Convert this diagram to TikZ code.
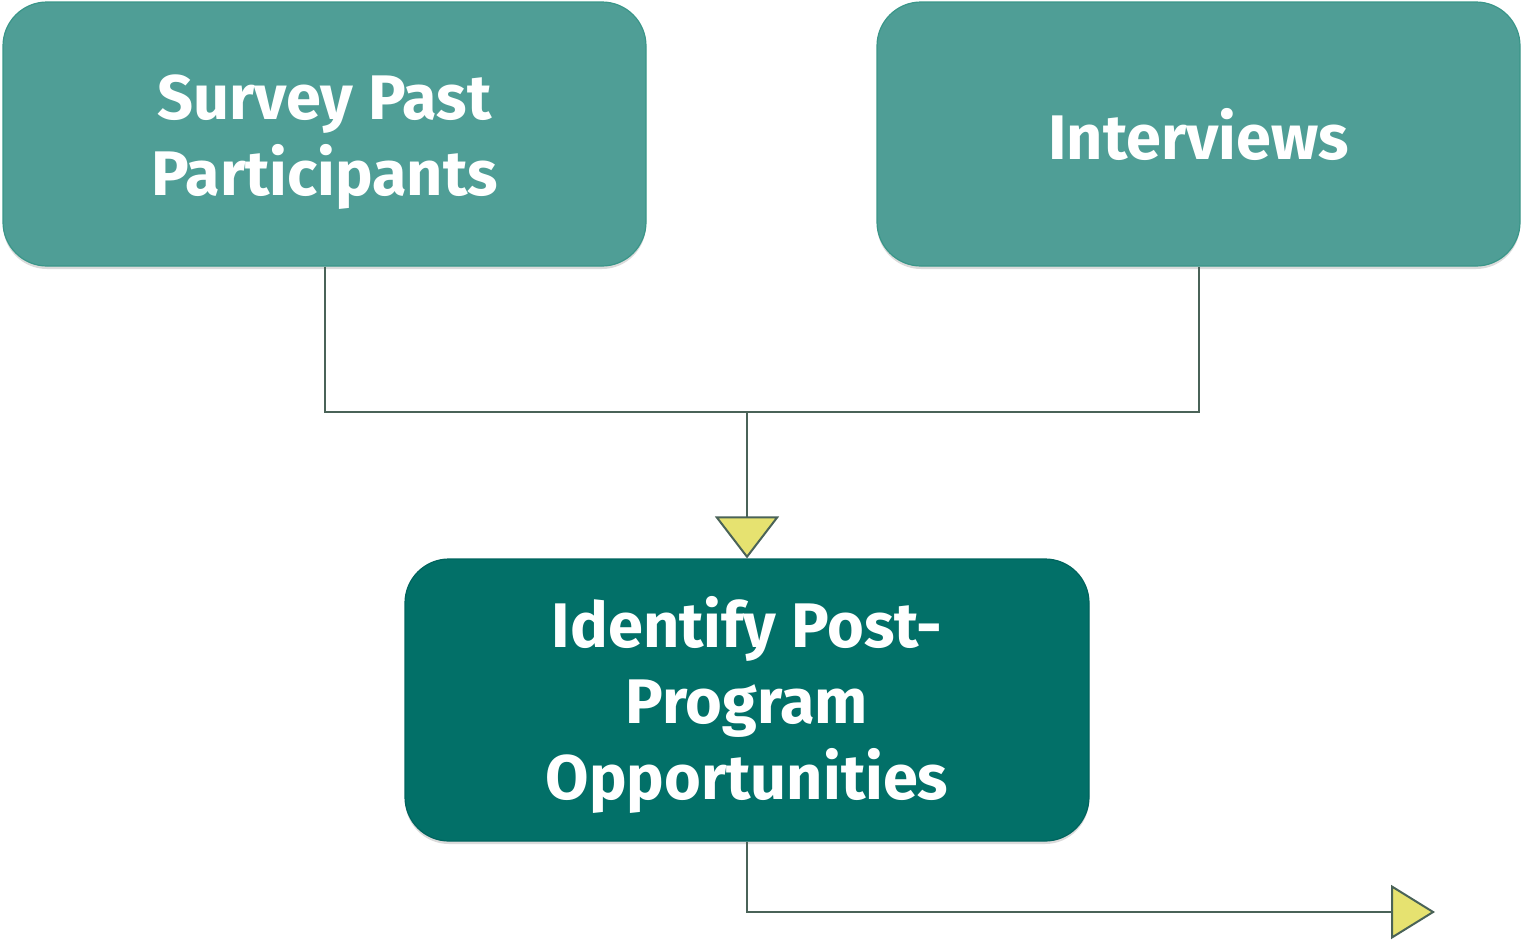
\documentclass[tikz,border=0pt]{standalone}
\usepackage{fontspec}
\setmainfont{Fira Sans}
\usetikzlibrary{arrows.meta,shadows}
\definecolor{lightteal}{RGB}{79,158,150}
\definecolor{lighttealdraw}{RGB}{58,150,137}
\definecolor{darkteal}{RGB}{2,112,104}
\definecolor{darktealdraw}{RGB}{0,100,94}
\definecolor{linecol}{RGB}{74,99,88}
\definecolor{tipyellow}{RGB}{230,226,112}
\newcommand{\topstrut}{\rule{0pt}{60pt}}
\tikzset{
  boxbase/.style={rounded corners=44pt, line width=1.2pt, text=white, align=center,
    font=\fontsize{63}{76}\selectfont\bfseries,
    drop shadow={shadow xshift=0pt, shadow yshift=-3pt, opacity=0.14, fill=black}},
  lightbox/.style={boxbase, fill=lightteal, draw=lighttealdraw, minimum width=643pt, minimum height=264pt},
  darkbox/.style={boxbase, fill=darkteal, draw=darktealdraw, minimum width=684pt, minimum height=282pt},
  conn/.style={draw=linecol, line width=2pt},
  bigtip/.style={-{Triangle[length=42pt,width=64pt,fill=tipyellow,line width=2pt]}},
  endtip/.style={-{Triangle[length=44pt,width=54pt,fill=tipyellow,line width=2pt]}}
}
\begin{document}
\begin{tikzpicture}[x=1pt,y=-1pt]
\useasboundingbox (0,0) rectangle (1522,940);
\node[lightbox] (survey) at (324.5,134) {\topstrut Survey Past\\Participants};
\node[lightbox] (interviews) at (1198.5,134) {Interviews};
\node[darkbox] (identify) at (747,700) {\topstrut Identify Post-\\Program\\Opportunities};
\coordinate (junction) at (747,412);
\coordinate (turn) at (747,912);
\coordinate (out) at (1435,912);
\draw[conn] (survey.south) |- (junction) -| (interviews.south);
\draw[conn,bigtip] (junction) -- (identify.north);
\draw[conn,endtip] (identify.south) -- (turn) -- (out);
\end{tikzpicture}
\end{document}
